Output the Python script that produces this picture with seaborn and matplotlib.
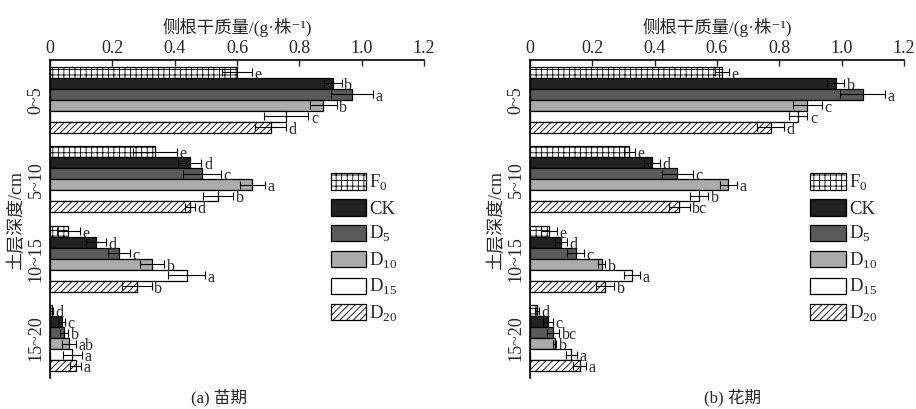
import numpy as np
import pandas as pd
import seaborn as sns
import matplotlib.pyplot as plt

# 数据：行 = 处理, 列 = 土层深度
depths = ["0~5", "5~10", "10~15", "15~20"]
treatments = ["F0", "CK", "D5", "D10", "D15", "D20"]
legend_labels = ["F$_\\mathregular{0}$", "CK", "D$_\\mathregular{5}$", "D$_\\mathregular{10}$",
                 "D$_\\mathregular{15}$", "D$_\\mathregular{20}$"]

# (a) 苗期
seed_mean = [[0.600, 0.337, 0.059, 0.005],
             [0.907, 0.449, 0.148, 0.037],
             [0.968, 0.487, 0.221, 0.045],
             [0.877, 0.649, 0.328, 0.061],
             [0.757, 0.540, 0.439, 0.072],
             [0.708, 0.449, 0.278, 0.083]]
seed_err = [[0.049, 0.070, 0.037, 0.005],
            [0.029, 0.037, 0.032, 0.011],
            [0.067, 0.061, 0.035, 0.014],
            [0.043, 0.041, 0.038, 0.022],
            [0.072, 0.048, 0.059, 0.030],
            [0.049, 0.016, 0.048, 0.018]]
seed_sig = [["e", "e", "e", "d"],
            ["b", "d", "d", "c"],
            ["a", "c", "c", "b"],
            ["b", "a", "b", "ab"],
            ["c", "b", "a", "a"],
            ["d", "d", "b", "a"]]

# (b) 花期
flower_mean = [[0.617, 0.319, 0.061, 0.023],
               [0.981, 0.392, 0.099, 0.059],
               [1.067, 0.473, 0.147, 0.075],
               [0.890, 0.636, 0.230, 0.080],
               [0.861, 0.543, 0.328, 0.132],
               [0.772, 0.479, 0.241, 0.160]]
flower_err = [[0.022, 0.018, 0.025, 0.006],
              [0.027, 0.025, 0.020, 0.016],
              [0.072, 0.049, 0.027, 0.019],
              [0.046, 0.027, 0.011, 0.005],
              [0.029, 0.029, 0.025, 0.018],
              [0.043, 0.034, 0.029, 0.021]]
flower_sig = [["e", "e", "e", "d"],
              ["b", "d", "d", "c"],
              ["a", "c", "c", "bc"],
              ["c", "a", "b", "b"],
              ["c", "b", "a", "a"],
              ["d", "bc", "b", "a"]]

colors = ["white", "#222222", "#5a5a5a", "#ababab", "white", "white"]
hatches = ["+++", "", "", "", "", "/////"]

sns.set_theme(style="white")
plt.rcParams['font.family'] = ['Liberation Serif', 'Noto Sans CJK SC', 'DejaVu Sans']
plt.rcParams['mathtext.fontset'] = 'custom'
plt.rcParams['mathtext.rm'] = 'Liberation Serif'
plt.rcParams['hatch.linewidth'] = 0.6
plt.rcParams['axes.edgecolor'] = 'black'

fig = plt.figure(figsize=(9.16, 4.09), dpi=100)
ax1 = fig.add_axes([0.0546, 0.0758, 0.4083, 0.7775])
ax2 = fig.add_axes([0.5786, 0.0758, 0.4083, 0.7775])


def draw(ax, mean, err, sig, caption, cap_x):
    rows = []
    for i, t in enumerate(treatments):
        for j, d in enumerate(depths):
            rows.append({"depth": d, "trt": t, "val": mean[i][j]})
    df = pd.DataFrame(rows)
    sns.barplot(data=df, x="val", y="depth", hue="trt", order=depths, hue_order=treatments,
                orient="h", width=0.83, errorbar=None, ax=ax, legend=False,
                edgecolor="black", linewidth=0.9)
    bar_groups = list(ax.containers)
    for i, cont in enumerate(bar_groups):
        for j, bar in enumerate(cont):
            bar.set_facecolor(colors[i])
            bar.set_edgecolor("black")
            if hatches[i]:
                bar.set_hatch(hatches[i])
            yc = bar.get_y() + bar.get_height() / 2
            w = bar.get_width()
            ax.errorbar(w, yc, xerr=err[i][j], fmt="none", ecolor="black",
                        elinewidth=0.8, capsize=3, capthick=0.8)
            ax.text(w + err[i][j] + 0.008, yc + 0.03, sig[i][j], fontsize=11.5,
                    ha="left", va="center")

    ax.set_xlim(0, 1.2)
    ax.set_ylim(3.5, -0.5)
    ax.xaxis.tick_top()
    ax.xaxis.set_label_position("top")
    ax.set_xticks([0, 0.2, 0.4, 0.6, 0.8, 1.0, 1.2])
    ax.set_xticklabels(["0", "0.2", "0.4", "0.6", "0.8", "1.0", "1.2"], fontsize=13)
    ax.tick_params(axis="x", direction="in", length=4, width=1, pad=2, top=True, bottom=False)
    ax.tick_params(axis="y", length=0, pad=4)
    ax.set_yticks(range(len(depths)))
    ax.set_yticklabels(depths, rotation=90, va="center", fontsize=13)
    ax.set_xlabel("侧根干质量/(g·株⁻¹)", fontsize=12.5, labelpad=5)
    ax.set_ylabel("")
    for s in ["right", "bottom"]:
        ax.spines[s].set_visible(False)
    ax.spines["top"].set_linewidth(1.2)
    ax.spines["left"].set_linewidth(1.2)

    handles = [plt.Rectangle((0, 0), 1, 1, facecolor=colors[i], edgecolor="black",
                             hatch=hatches[i], linewidth=0.9) for i in range(len(treatments))]
    ax.legend(handles, legend_labels, loc="upper left", bbox_to_anchor=(0.75, 0.645),
              frameon=False, fontsize=13.5, handlelength=1.9, handleheight=0.95,
              labelspacing=0.33, handletextpad=0.15, borderpad=0, borderaxespad=0)
    fig.text(cap_x, 0.027, caption, fontsize=12, ha="center", va="center")


draw(ax1, seed_mean, seed_err, seed_sig, "(a) 苗期", 0.239)
draw(ax2, flower_mean, flower_err, flower_sig, "(b) 花期", 0.80)

fig.text(0.0175, 0.46, "土层深度/cm", rotation=90, fontsize=13, ha="center", va="center")
fig.text(0.5415, 0.46, "土层深度/cm", rotation=90, fontsize=13, ha="center", va="center")

fig.savefig("out.png", dpi=100)
